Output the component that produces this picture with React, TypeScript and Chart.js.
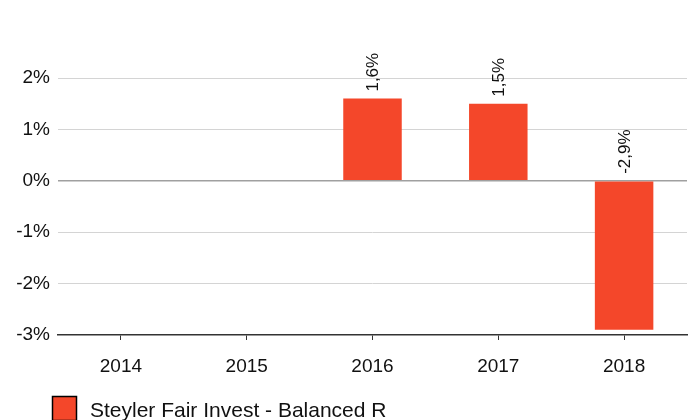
import React, { useEffect, useRef } from "react";
import { Chart, registerables } from "chart.js";

Chart.register(...registerables);

const categories = ["2014", "2015", "2016", "2017", "2018"];
const values: (number | null)[] = [null, null, 1.6, 1.5, -2.9];
const seriesLabel = "Steyler Fair Invest - Balanced R";
const yMin = -3;
const yMax = 2;
const barColor = "#f4472a";
const FONT = "Arial, 'Liberation Sans', Helvetica, sans-serif";

const fmt = (v: number) => v.toFixed(1).replace(".", ",") + "%";

const labelPlugin = {
  id: "barLabels",
  afterDatasetsDraw(chart: any) {
    const ctx = chart.ctx;
    const meta = chart.getDatasetMeta(0);
    const yScale = chart.scales.y;
    const zeroY = yScale.getPixelForValue(0);
    ctx.save();
    ctx.font = `17px ${FONT}`;
    ctx.fillStyle = "#111";
    ctx.textAlign = "left";
    ctx.textBaseline = "middle";
    meta.data.forEach((el: any, i: number) => {
      const v = values[i];
      if (v === null || v === undefined) return;
      const anchor = v >= 0 ? el.y : zeroY;
      ctx.save();
      ctx.translate(el.x + 1, anchor - 7);
      ctx.rotate(-Math.PI / 2);
      ctx.fillText(fmt(v), 0, 0);
      ctx.restore();
    });
    ctx.restore();
  },
};

const legendPlugin = {
  id: "customLegend",
  afterDraw(chart: any) {
    const ctx = chart.ctx;
    ctx.save();
    ctx.fillStyle = barColor;
    ctx.fillRect(52, 396, 25, 25);
    ctx.strokeStyle = "#000";
    ctx.lineWidth = 1.5;
    ctx.strokeRect(52.5, 396.5, 24, 24);
    ctx.fillStyle = "#111";
    ctx.font = `21px ${FONT}`;
    ctx.textAlign = "left";
    ctx.textBaseline = "alphabetic";
    ctx.fillText(seriesLabel, 90, 417);
    ctx.restore();
  },
};

export default function App() {
  const ref = useRef<HTMLCanvasElement | null>(null);
  useEffect(() => {
    if (!ref.current) return;
    const chart = new Chart(ref.current, {
      type: "bar",
      data: {
        labels: categories,
        datasets: [
          {
            label: seriesLabel,
            data: values,
            backgroundColor: barColor,
            borderWidth: 0,
            categoryPercentage: 1,
            barPercentage: 0.465,
          },
        ],
      },
      options: {
        animation: false,
        responsive: false,
        devicePixelRatio: 1,
        layout: { padding: { top: 78, right: 1, left: 0, bottom: 0 } },
        plugins: {
          legend: { display: false },
          tooltip: { enabled: false },
        },
        scales: {
          x: {
            grid: {
              offset: false,
              drawOnChartArea: false,
              drawTicks: true,
              tickLength: 5,
              tickColor: "#333",
            },
            border: { display: true, color: "#333", width: 1.5 },
            ticks: {
              color: "#111",
              font: { family: FONT, size: 19 },
              padding: 15,
            },
            afterFit(scale: any) {
              scale.height = 85;
            },
          },
          y: {
            min: yMin,
            max: yMax,
            ticks: {
              stepSize: 1,
              color: "#111",
              font: { family: FONT, size: 19 },
              padding: 8,
              callback: (v: any) => `${v}%`,
            },
            grid: {
              drawTicks: false,
              color: (c: any) =>
                c.tick && c.tick.value === 0
                  ? "#a0a0a0"
                  : c.tick && c.tick.value === yMin
                  ? "rgba(0,0,0,0)"
                  : "#d4d4d4",
              lineWidth: (c: any) => (c.tick && c.tick.value === 0 ? 1.5 : 1),
            },
            border: { display: false },
            afterFit(scale: any) {
              scale.width = 58;
            },
          },
        },
      },
      plugins: [labelPlugin, legendPlugin],
    });
    return () => chart.destroy();
  }, []);
  return (
    <div style={{ position: "fixed", left: 0, top: 0, width: 688, height: 420, background: "#fff" }}>
      <canvas ref={ref} width={688} height={420} style={{ display: "block" }} />
    </div>
  );
}
